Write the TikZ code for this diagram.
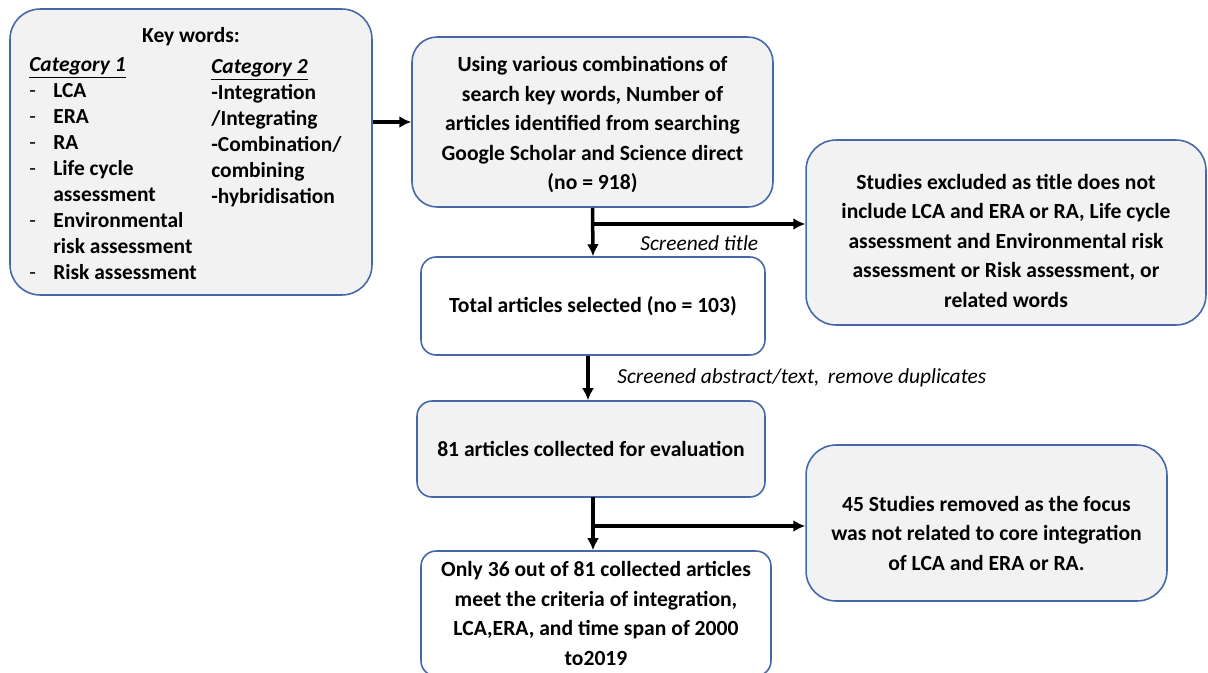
\documentclass[tikz,border=0pt]{standalone}
\usepackage{fontspec}
\setmainfont{Carlito}
\usetikzlibrary{positioning,arrows.meta}
\definecolor{boxblue}{RGB}{68,104,170}
\definecolor{boxgray}{RGB}{242,242,242}
\tikzset{
  box/.style      = {shape=rectangle, draw=boxblue, line width=0.9pt,
                     align=center, inner sep=0pt,
                     font=\bfseries\fontsize{12.3}{16.8}\selectfont},
  greybox/.style  = {box, fill=boxgray},
  whitebox/.style = {box, fill=white},
  kwtext/.style   = {inner sep=0pt, align=left, anchor=north west,
                     font=\bfseries\fontsize{12.2}{14.8}\selectfont},
  flow/.style     = {draw, line width=2pt, -{Latex[length=0.24cm,width=0.24cm]}},
  note/.style     = {anchor=west, inner sep=0pt,
                     font=\itshape\fontsize{12.2}{14}\selectfont}
}

\begin{document}
\begin{tikzpicture}[x=0.02cm, y=-0.02cm]
  \useasboundingbox (0,0) rectangle (1208,673);
  % key words
  \node [greybox, rounded corners=0.6cm, minimum width=7.24cm, minimum height=5.72cm] (kw) at (191,152) {};
  \node [kwtext, anchor=center] (kwtitle) at (191,37) {Key words:};
  \node [kwtext] (catone) at (29,57) {\underline{\textit{Category 1}}\\
    \makebox[0.48cm][l]{\mdseries -}LCA\\
    \makebox[0.48cm][l]{\mdseries -}ERA\\
    \makebox[0.48cm][l]{\mdseries -}RA\\
    \makebox[0.48cm][l]{\mdseries -}Life cycle\\
    \hspace*{0.48cm}assessment\\
    \makebox[0.48cm][l]{\mdseries -}Environmental\\
    \hspace*{0.48cm}risk assessment\\
    \makebox[0.48cm][l]{\mdseries -}Risk assessment};
  \node [kwtext] (cattwo) at (211,59) {\underline{\textit{Category 2}}\\
    -Integration\\ /Integrating\\ -Combination/\\ combining\\ -hybridisation};
  % flow boxes
  \node [greybox, rounded corners=0.5cm, minimum width=7.22cm, minimum height=3.4cm] (search) at (592.5,122)
    {\raisebox{-0.06cm}[\height][\depth]{\begin{tabular}{@{}c@{}}Using various combinations of\\ search key words, Number of\\
     articles identified from searching\\ Google Scholar and Science direct\\ (no = 918)\end{tabular}}};
  \node [whitebox, rounded corners=0.3cm, minimum width=6.88cm, minimum height=1.96cm] (total) at (593,306)
    {Total articles selected (no = 103)};
  \node [greybox, rounded corners=0.6cm, minimum width=8cm, minimum height=3.7cm] (excl) at (1006,232.5)
    {\raisebox{-0.2cm}[\height][\depth]{\begin{tabular}{@{}c@{}}Studies excluded as title does not\\
     include LCA and ERA or RA, Life cycle\\ assessment and Environmental risk\\
     assessment or Risk assessment, or\\ related words\end{tabular}}};
  \node [greybox, rounded corners=0.3cm, minimum width=6.96cm, minimum height=1.92cm] (eval) at (591,449)
    {81 articles collected for evaluation};
  \node [greybox, rounded corners=0.6cm, minimum width=7.22cm, minimum height=3.12cm] (removed) at (986.5,523)
    {\raisebox{-0.24cm}[\height][\depth]{\begin{tabular}{@{}c@{}}45 Studies removed as the focus\\
     was not related to core integration\\ of LCA and ERA or RA.\end{tabular}}};
  \node [whitebox, rounded corners=0.3cm, minimum width=7cm, minimum height=2.5cm] (final) at (596,613.5)
    {Only 36 out of 81 collected articles\\ meet the criteria of integration,\\
     LCA,ERA, and time span of 2000\\ to2019};
  % connectors
  \draw [flow] (search.west -| kw.east) -- (search.west);
  \draw [flow] (search.south) -- (total.north);
  \coordinate (titlesplit) at (593,224);
  \draw [flow] (titlesplit) -- (titlesplit -| excl.west);
  \node [note] (titlenote) at (640,243) {Screened title};
  \draw [flow] (588,356) coordinate (abstop) -- (abstop |- eval.north);
  \node [note] (absnote) at (617,378) {Screened abstract/text,\, remove duplicates};
  \draw [flow] (593,497) coordinate (evalout) -- (evalout |- final.north);
  \coordinate (focussplit) at (593,526);
  \draw [flow] (focussplit) -- (focussplit -| removed.west);
\end{tikzpicture}
\end{document}
